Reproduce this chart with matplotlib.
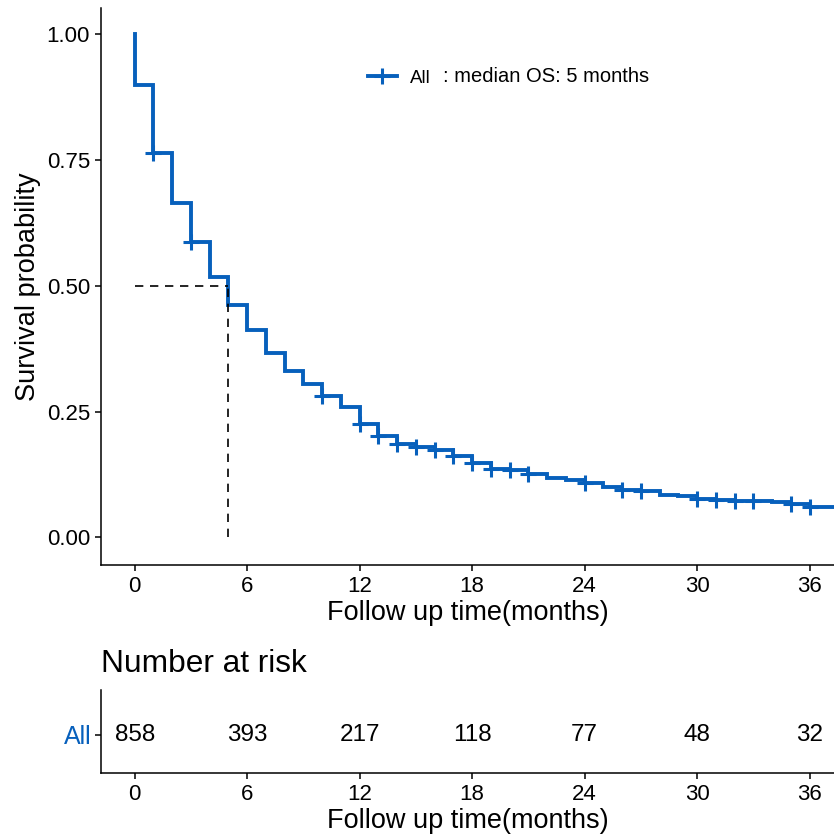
import matplotlib
matplotlib.use("Agg")
import matplotlib.pyplot as plt
from matplotlib.lines import Line2D

# ==========================================
# Data
# ==========================================
MONTHS = list(range(0, 37))
SURV = [0.898, 0.764, 0.664, 0.587, 0.517, 0.461, 0.412, 0.366, 0.330, 0.3055,
        0.281, 0.258, 0.2247, 0.2014, 0.1849, 0.1796, 0.173, 0.161, 0.148, 0.1366,
        0.1346, 0.1252, 0.118, 0.114, 0.108, 0.099, 0.095, 0.092, 0.0835, 0.0815,
        0.076, 0.0745, 0.073, 0.072, 0.0696, 0.067, 0.060]
LAST_FOLLOWUP = 38
CENSOR_MONTHS = [1, 3, 10, 12, 13, 14, 15, 16, 17, 18, 19, 20, 21, 24, 26, 27,
                 30, 31, 32, 33, 35, 36]
MEDIAN_OS = 5

RISK_TIMES = [0, 6, 12, 18, 24, 30, 36]
RISK_N = [858, 393, 217, 118, 77, 48, 32]

GROUP = "All"
LEGEND_NOTE = ": median OS: 5 months"

# ==========================================
# Style
# ==========================================
BLUE = "#0760BC"
plt.rcParams["font.family"] = ["Liberation Sans", "DejaVu Sans"]
XLIM = (-1.8, 37.3)

fig = plt.figure(figsize=(8.34, 8.39), dpi=100)
ax = fig.add_axes([0.1211, 0.3266, 0.8789, 0.6639])
ax_risk = fig.add_axes([0.1211, 0.0787, 0.8789, 0.0989])


def style_axis(a):
    for side in ("top", "right"):
        a.spines[side].set_visible(False)
    for side in ("left", "bottom"):
        a.spines[side].set_linewidth(1.1)
        a.spines[side].set_color("black")
    a.tick_params(axis="both", length=4.5, width=1.1, color="black",
                  labelsize=16, labelcolor="black", pad=3.5)


# ==========================================
# KM curve
# ==========================================
xs = [0] + MONTHS + [LAST_FOLLOWUP]
ys = [1.0] + SURV + [SURV[-1]]
ax.step(xs, ys, where="post", color=BLUE, lw=2.8, solid_joinstyle="miter")

cx = CENSOR_MONTHS
cy = [SURV[MONTHS.index(m)] for m in CENSOR_MONTHS]
ax.plot(cx, cy, ls="none", marker="+", ms=11, mew=2.2, color=BLUE)

# median lines
ax.plot([0, MEDIAN_OS], [0.5, 0.5], color="black", lw=1.2, ls=(0, (5, 4)))
ax.plot([MEDIAN_OS, MEDIAN_OS], [0, 0.5], color="black", lw=1.2, ls=(0, (5, 4)))

style_axis(ax)
ax.set_xlim(*XLIM)
ax.set_ylim(-0.055, 1.052)
ax.set_xticks(RISK_TIMES)
ax.set_yticks([0, 0.25, 0.5, 0.75, 1.0])
ax.set_yticklabels(["0.00", "0.25", "0.50", "0.75", "1.00"])
ax.set_xlabel("Follow up time(months)", fontsize=19.5, labelpad=2)
ax.set_ylabel("Survival probability", fontsize=19.5, labelpad=4)

handle = Line2D([], [], color=BLUE, lw=2.8, marker="+", ms=11, mew=2.2)
ax.legend([handle], [GROUP], loc="center left", bbox_to_anchor=(0.441, 0.9065),
          bbox_transform=fig.transFigure, frameon=False, fontsize=13.5,
          handlelength=1.55, handletextpad=0.7, borderpad=0, borderaxespad=0)
fig.text(0.5316, 0.9086, LEGEND_NOTE, fontsize=14.5, va="center", ha="left")

# ==========================================
# Risk table
# ==========================================
for t, n in zip(RISK_TIMES, RISK_N):
    ax_risk.text(t, 1, str(n), ha="center", va="center", fontsize=17.5)

style_axis(ax_risk)
ax_risk.set_xlim(*XLIM)
ax_risk.set_ylim(0.537, 1.537)
ax_risk.set_xticks(RISK_TIMES)
ax_risk.set_yticks([1])
ax_risk.set_yticklabels([GROUP])
ax_risk.tick_params(axis="y", labelsize=18, pad=2)
ax_risk.get_yticklabels()[0].set_color(BLUE)
ax_risk.set_xlabel("Follow up time(months)", fontsize=19.5, labelpad=2)
ax_risk.set_title("Number at risk", loc="left", fontsize=22.8, pad=13)

fig.savefig("out.png", dpi=100)
